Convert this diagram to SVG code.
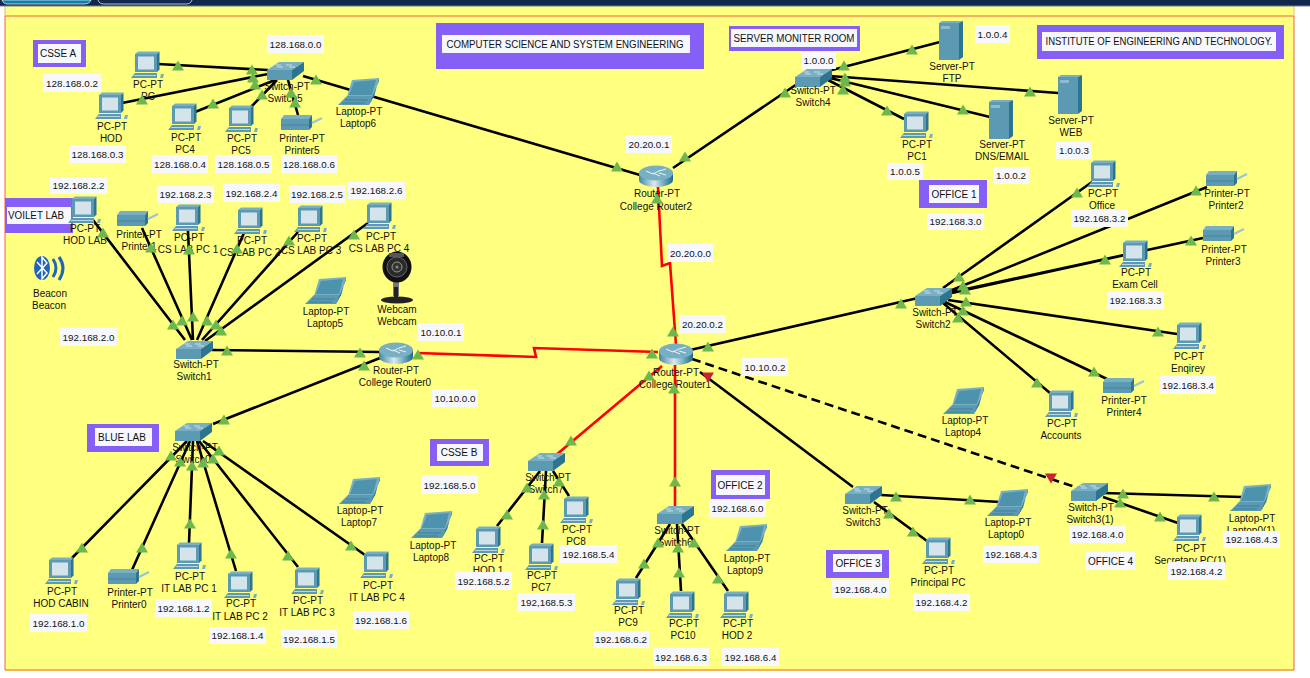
<svg xmlns="http://www.w3.org/2000/svg" width="1310" height="678" viewBox="0 0 1310 678">
<style>
text{font-family:"Liberation Sans",Arial,sans-serif;font-size:10px;fill:#111;text-anchor:middle}
.nt{font-size:9.8px}
.note rect{fill:#f6f8fe}
.z{fill:#8660f6}
.zi{fill:#f6f8fe}
.c{fill:none;stroke:#000;stroke-width:2.600}
.r{fill:none;stroke:#f00;stroke-width:2.600}
.d{fill:none;stroke:#000;stroke-width:2.600;stroke-dasharray:9 5}
.a{fill:#5b9ab2}.b{fill:#2b7590}.t{fill:#79afc3}.s{fill:#d5e4ea}
.g{fill:#6cb84c}
</style>
<defs>
<linearGradient id="rg" x1="0" x2="1" y1="0" y2="0"><stop offset="0" stop-color="#3f86a6"/><stop offset=".45" stop-color="#dbe9ee"/><stop offset=".75" stop-color="#6aa4ba"/><stop offset="1" stop-color="#1f6a86"/></linearGradient>
<g id="pc"><polygon class="t" points="4,3 7,0.5 28.5,0.5 26,3"/><rect class="a" x="4" y="3" width="22" height="18"/><polygon class="b" points="26,3 28.5,0.5 28.5,18.5 26,21"/><rect class="s" x="7" y="5.5" width="16" height="13"/><polygon class="a" points="0,27 4,22 26,22 26,27"/><path d="M3,24.500H25" stroke="#d5e4ea" stroke-width=".8"/><polygon class="t" points="29,27 30,23 33,23 32,27"/></g>
<g id="printer"><polygon class="t" points="0,5 3,1 31,1 28,5"/><rect class="a" x="0" y="5" width="28" height="11"/><polygon class="b" points="28,5 31,1 31,13 28,16"/><path d="M0,11H28" stroke="#3f7f98" stroke-width=".8"/><path d="M31,9L41,4" stroke="#9cc4d2" stroke-width="2.200"/></g>
<g id="laptop"><polygon class="t" points="14,2 41,0 36,19 9,19"/><polygon fill="#4d93ae" points="16,4 38,2 34,17 11,17"/><polygon class="a" points="9,18 36,18 31,27 0,27"/><path d="M7,22H30M4,25H27" stroke="#2b7590" stroke-width=".7"/><polygon class="b" points="36,18 41,0 41,3 31,27"/></g>
<g id="switch"><polygon class="t" points="0,8 12,0 37,0 25,8"/><rect class="a" x="0" y="8" width="25" height="10"/><polygon class="b" points="25,8 37,0 37,9 25,18"/><path d="M10,5H16M19,3H25M9,3H14M22,5H28" stroke="#dbe9ee" stroke-width=".8"/></g>
<g id="router"><path d="M0,8V15A17,7 0 0 0 34,15V8Z" fill="url(#rg)"/><ellipse class="t" cx="17" cy="8" rx="17" ry="7.500"/><path d="M7,6L14,9M20,6L14,9M20,6L27,4M21,11L14,8M27,10L20,8" stroke="#eef5f8" stroke-width="1" fill="none"/></g>
<g id="server"><polygon class="t" points="0,2 3,0 24,0 20,2"/><rect class="a" x="0" y="2" width="20" height="37"/><polygon class="b" points="20,2 24,0 24,36 20,39"/><rect x="2" y="5" width="9" height="3" fill="#8fbccc"/></g>
<polygon id="g" class="g" points="0,-5.500 6,4.500 -6,4.500"/>
<polygon id="x" fill="#c9232f" points="-6,-4.500 6,-4.500 0,5.500"/>
</defs>
<rect width="1310" height="678" fill="#fff"/>
<rect x="5" y="6" width="1289" height="665" fill="#ffff80"/>
<path d="M5,16H1294V670H5Z" fill="none" stroke="#f2603c" stroke-width="1"/>
<path d="M5,6V16" stroke="#d9b38c"/>
<path d="M1294,6V16" stroke="#e8c070"/>
<rect width="1310" height="6" fill="#10284e"/>
<rect y="5.500" width="1310" height="1" fill="#6d7f96"/>
<path d="M2,0C3,3 5,4 8,4H84C87,4 90,3 91,0Z" fill="#0d7fae" stroke="#dfe8ee" stroke-width=".8"/>
<path d="M98,0C99,3 101,4 104,4H186C189,4 191,3 192,0" fill="#10284e" stroke="#dfe8ee" stroke-width=".8"/>

<g id="zones">
<g id="z-csse-a"><rect class="z" x="33" y="40" width="53" height="27"/><rect class="zi" x="38" y="44" width="43" height="19"/><text x="58" y="57">CSSE A</text></g>
<g id="z-voilet"><rect class="z" x="5" y="198" width="68" height="35"/><rect class="zi" x="7" y="207" width="64" height="17"/><text x="36" y="219" textLength="56" lengthAdjust="spacingAndGlyphs">VOILET LAB</text></g>
<g id="z-blue"><rect class="z" x="87" y="424" width="72" height="28"/><rect class="zi" x="95" y="428" width="57" height="18"/><text x="122" y="441">BLUE LAB</text></g>
<g id="z-csse-b"><rect class="z" x="430" y="439" width="59" height="27"/><rect class="zi" x="437" y="444" width="46" height="17"/><text x="459" y="456">CSSE B</text></g>
<g id="z-office2"><rect class="z" x="711" y="470" width="59" height="29"/><rect class="zi" x="716" y="475" width="49" height="20"/><text x="740" y="489">OFFICE 2</text></g>
<g id="z-office3"><rect class="z" x="826" y="550" width="63" height="28"/><rect class="zi" x="833" y="554" width="49" height="18"/><text x="858" y="567">OFFICE 3</text></g>
<g id="z-office1"><rect class="z" x="919" y="180" width="68" height="28"/><rect class="zi" x="929" y="185" width="50" height="18"/><text x="954" y="198">OFFICE 1</text></g>
<g id="z-cs"><rect class="z" x="436" y="23" width="268" height="46"/><rect class="zi" x="442" y="35" width="248" height="18"/><text x="565" y="48" textLength="237" lengthAdjust="spacingAndGlyphs">COMPUTER SCIENCE AND SYSTEM ENGINEERING</text></g>
<g id="z-server"><rect class="z" x="729" y="26" width="131" height="25"/><rect class="zi" x="731" y="29" width="126" height="18"/><text x="794" y="42" textLength="121" lengthAdjust="spacingAndGlyphs">SERVER MONITER ROOM</text></g>
<g id="z-inst"><rect class="z" x="1037" y="25" width="247" height="34"/><rect class="zi" x="1042" y="32" width="234" height="19"/><text x="1159" y="45" textLength="227" lengthAdjust="spacingAndGlyphs">INSTITUTE OF ENGINEERING AND TECHNOLOGY.</text></g>
</g>

<g id="connectors">
<path class="c" d="M158,64L268,70M122,103L268,74M195,112L275,80M250,108L277,80M298,115L288,80M303,76L640,175M673,168L800,82M832,70L940,42M830,76L1058,93M830,78L990,117M828,80L904,119"/>
<path class="c" d="M212,350L380,352M380,358L213,424M690,350L918,298M700,372L853,487"/>
<path class="c" d="M881,495L1000,502M874,502L927,541M1103,493L1242,497M1103,497L1178,523"/>
<path class="c" d="M943,288L1092,182M952,290L1207,187M952,293L1125,255M952,292L1203,238M948,300L1177,334M945,302L1107,379M943,303L1050,393"/>
<path class="c" d="M93,220L185,340M142,228L192,340M188,231L193,340M244,233L197,340M298,232L202,340M368,223L205,341"/>
<path class="c" d="M72,558L187,441M132,570L190,441M189,543L193,441M236,571L197,441M298,567L199,441M365,555L203,441"/>
<path class="c" d="M497,526L540,471M542,543L546,471M569,496L553,471M636,578L670,524M681,591L677,524M728,591L682,524"/>
<path class="r" d="M658,187L662,266L670,263L676,345"/>
<path class="r" d="M417,353L536,357L534,348L658,352"/>
<path class="r" d="M662,366L556,455M675,365V506"/>
<path class="d" d="M692,359L1078,488"/>
</g>

<g id="nodes">
<g id="n-pc"><use href="#pc" x="131" y="51"/><text x="148" y="88">PC-PT</text><text x="148" y="100">PC</text></g>
<g id="n-hod"><use href="#pc" x="95" y="92"/><text x="112" y="130">PC-PT</text><text x="111" y="142">HOD</text></g>
<g id="n-pc4"><use href="#pc" x="168" y="103"/><text x="186" y="141">PC-PT</text><text x="185" y="153">PC4</text></g>
<g id="n-pc5"><use href="#pc" x="225" y="105"/><text x="242" y="142">PC-PT</text><text x="241" y="154">PC5</text></g>
<g id="n-printer5"><use href="#printer" x="281" y="114"/><text x="302" y="142">Printer-PT</text><text x="302" y="154">Printer5</text></g>
<g id="n-laptop6"><use href="#laptop" x="338" y="78"/><text x="359" y="115">Laptop-PT</text><text x="358" y="127">Laptop6</text></g>
<g id="n-switch5"><use href="#switch" x="267" y="62"/><text x="287" y="90">Switch-PT</text><text x="285" y="102">Switch5</text></g>

<g id="n-hodlab"><use href="#pc" x="68" y="196"/><text x="85" y="232">PC-PT</text><text x="85" y="244">HOD LAB</text></g>
<g id="n-printer1"><use href="#printer" x="117" y="210"/><text x="139" y="238">Printer-PT</text><text x="139" y="250">Printer1</text></g>
<g id="n-cs1"><use href="#pc" x="172" y="204"/><text x="189" y="241">PC-PT</text><text x="188" y="253">CS LAB PC 1</text></g>
<g id="n-cs2"><use href="#pc" x="234" y="207"/><text x="252" y="244">PC-PT</text><text x="250" y="256">CS LAB PC 2</text></g>
<g id="n-cs3"><use href="#pc" x="294" y="205"/><text x="312" y="242">PC-PT</text><text x="311" y="254">CS LAB PC 3</text></g>
<g id="n-cs4"><use href="#pc" x="363" y="202"/><text x="381" y="240">PC-PT</text><text x="379" y="252">CS LAB PC 4</text></g>
<g id="n-webcam"><rect x="393" y="280" width="6" height="16" fill="#777"/><path d="M394,287h4v11h-4z" fill="#222"/><ellipse cx="397" cy="300" rx="16" ry="3.500" fill="#222"/><ellipse cx="397" cy="267" rx="14.500" ry="15.500" fill="#111"/><rect x="389" y="253" width="15" height="4" fill="#555"/><circle cx="397" cy="267" r="10" fill="#2a2a2a" stroke="#666"/><circle cx="397" cy="267" r="5" fill="#333" stroke="#999"/><circle cx="397" cy="267" r="1.500" fill="#888"/><text x="397" y="313">Webcam</text><text x="397" y="325">Webcam</text></g>
<g id="n-laptop5"><use href="#laptop" x="305" y="277"/><text x="326" y="315">Laptop-PT</text><text x="325" y="327">Laptop5</text></g>
<g id="n-beacon"><ellipse cx="42" cy="268" rx="8" ry="12" fill="#2363b8"/><path d="M37,262L47,273L42,279V257L47,263L37,274" fill="none" stroke="#fff" stroke-width="1.500"/><path d="M53,259Q59,268 53,277M59,257Q67,268 59,280" fill="none" stroke="#2363b8" stroke-width="3"/><text x="50" y="297">Beacon</text><text x="49" y="309">Beacon</text></g>
<g id="n-switch1"><use href="#switch" x="176" y="341"/><text x="196" y="368">Switch-PT</text><text x="194" y="380">Switch1</text></g>
<g id="n-router0"><use href="#router" x="379" y="342"/><text x="396" y="374">Router-PT</text><text x="395" y="386">College Router0</text></g>

<g id="n-switch0"><use href="#switch" x="175" y="423"/><text x="195" y="451">Switch-PT</text><text x="193" y="463">Switch0</text></g>
<g id="n-hodcabin"><use href="#pc" x="45" y="557"/><text x="62" y="595">PC-PT</text><text x="61" y="607">HOD CABIN</text></g>
<g id="n-printer0"><use href="#printer" x="108" y="568"/><text x="130" y="596">Printer-PT</text><text x="129" y="608">Printer0</text></g>
<g id="n-it1"><use href="#pc" x="173" y="542"/><text x="190" y="580">PC-PT</text><text x="189" y="592">IT LAB PC 1</text></g>
<g id="n-it2"><use href="#pc" x="224" y="571"/><text x="241" y="607">PC-PT</text><text x="240" y="620">IT LAB PC 2</text></g>
<g id="n-it3"><use href="#pc" x="291" y="567"/><text x="308" y="604">PC-PT</text><text x="307" y="616">IT LAB PC 3</text></g>
<g id="n-it4"><use href="#pc" x="360" y="551"/><text x="378" y="589">PC-PT</text><text x="377" y="601">IT LAB PC 4</text></g>
<g id="n-laptop7"><use href="#laptop" x="339" y="477"/><text x="360" y="514">Laptop-PT</text><text x="359" y="526">Laptop7</text></g>
<g id="n-laptop8"><use href="#laptop" x="411" y="511"/><text x="433" y="549">Laptop-PT</text><text x="431" y="561">Laptop8</text></g>

<g id="n-switch7"><use href="#switch" x="528" y="453"/><text x="548" y="481">Switch-PT</text><text x="546" y="493">Switch7</text></g>
<g id="n-hod1"><use href="#pc" x="472" y="526"/><text x="489" y="562">PC-PT</text><text x="488" y="574">HOD 1</text></g>
<g id="n-pc7"><use href="#pc" x="525" y="543"/><text x="542" y="579">PC-PT</text><text x="541" y="591">PC7</text></g>
<g id="n-pc8"><use href="#pc" x="560" y="496"/><text x="577" y="533">PC-PT</text><text x="576" y="545">PC8</text></g>
<g id="n-switch6"><use href="#switch" x="657" y="506"/><text x="677" y="534">Switch-PT</text><text x="675" y="546">Switch6</text></g>
<g id="n-pc9"><use href="#pc" x="612" y="578"/><text x="629" y="614">PC-PT</text><text x="628" y="626">PC9</text></g>
<g id="n-pc10"><use href="#pc" x="666" y="591"/><text x="684" y="627">PC-PT</text><text x="683" y="639">PC10</text></g>
<g id="n-hod2"><use href="#pc" x="720" y="591"/><text x="738" y="627">PC-PT</text><text x="737" y="639">HOD 2</text></g>
<g id="n-laptop9"><use href="#laptop" x="726" y="524"/><text x="747" y="562">Laptop-PT</text><text x="745" y="574">Laptop9</text></g>

<g id="n-switch3"><use href="#switch" x="845" y="486"/><text x="865" y="514">Switch-PT</text><text x="863" y="526">Switch3</text></g>
<g id="n-laptop0"><use href="#laptop" x="987" y="489"/><text x="1008" y="526">Laptop-PT</text><text x="1006" y="538">Laptop0</text></g>
<g id="n-principal"><use href="#pc" x="922" y="537"/><text x="939" y="574">PC-PT</text><text x="938" y="586">Principal PC</text></g>
<g id="n-switch31"><use href="#switch" x="1071" y="483"/><text x="1091" y="511">Switch-PT</text><text x="1090" y="523">Switch3(1)</text></g>
<g id="n-laptop01"><use href="#laptop" x="1230" y="484"/><text x="1252" y="522">Laptop-PT</text><text x="1251" y="534">Laptop0(1)</text></g>
<g id="n-secretary"><use href="#pc" x="1173" y="514"/><text x="1191" y="552">PC-PT</text><text x="1190" y="564">Secretary PC(1)</text></g>
<g id="n-laptop4"><use href="#laptop" x="943" y="387"/><text x="965" y="424">Laptop-PT</text><text x="963" y="436">Laptop4</text></g>
<g id="n-accounts"><use href="#pc" x="1045" y="390"/><text x="1062" y="427">PC-PT</text><text x="1061" y="439">Accounts</text></g>
<g id="n-printer4"><use href="#printer" x="1103" y="377"/><text x="1124" y="404">Printer-PT</text><text x="1124" y="416">Printer4</text></g>

<g id="n-office"><use href="#pc" x="1087" y="160"/><text x="1103" y="197">PC-PT</text><text x="1102" y="209">Office</text></g>
<g id="n-printer2"><use href="#printer" x="1206" y="170"/><text x="1227" y="197">Printer-PT</text><text x="1226" y="209">Printer2</text></g>
<g id="n-printer3"><use href="#printer" x="1203" y="225"/><text x="1224" y="253">Printer-PT</text><text x="1223" y="265">Printer3</text></g>
<g id="n-exam"><use href="#pc" x="1119" y="240"/><text x="1136" y="276">PC-PT</text><text x="1135" y="288">Exam Cell</text></g>
<g id="n-enqirey"><use href="#pc" x="1173" y="322"/><text x="1189" y="360">PC-PT</text><text x="1188" y="372">Enqirey</text></g>
<g id="n-switch2"><use href="#switch" x="915" y="288"/><text x="935" y="316">Switch-PT</text><text x="933" y="328">Switch2</text></g>

<g id="n-switch4"><use href="#switch" x="795" y="69"/><text x="813" y="94">Switch-PT</text><text x="813" y="106">Switch4</text></g>
<g id="n-ftp"><use href="#server" x="939" y="21"/><text x="952" y="70">Server-PT</text><text x="952" y="82">FTP</text></g>
<g id="n-web"><use href="#server" x="1058" y="75"/><text x="1071" y="124">Server-PT</text><text x="1071" y="136">WEB</text></g>
<g id="n-dns"><use href="#server" x="989" y="100"/><text x="1002" y="148">Server-PT</text><text x="1002" y="160">DNS/EMAIL</text></g>
<g id="n-pc1"><use href="#pc" x="900" y="111"/><text x="917" y="148">PC-PT</text><text x="917" y="160">PC1</text></g>
<g id="n-router2"><use href="#router" x="639" y="165"/><text x="657" y="197">Router-PT</text><text x="656" y="210">College Router2</text></g>
<g id="n-router1"><use href="#router" x="659" y="343"/><text x="676" y="376">Router-PT</text><text x="675" y="388">College Router1</text></g>
</g>

<g id="link-lights">
<use href="#g" x="178" y="66"/><use href="#g" x="252" y="70"/><use href="#g" x="142" y="100"/><use href="#g" x="253" y="78"/><use href="#g" x="213" y="104"/><use href="#g" x="255" y="85"/><use href="#g" x="262" y="95"/><use href="#g" x="295" y="103"/><use href="#g" x="291" y="93"/><use href="#g" x="316" y="80"/><use href="#g" x="617" y="167"/>
<use href="#g" x="685" y="157"/><use href="#g" x="785" y="93"/><use href="#g" x="844" y="66"/><use href="#g" x="912" y="50"/><use href="#g" x="845" y="78"/><use href="#g" x="1030" y="92"/><use href="#g" x="845" y="82"/><use href="#g" x="963" y="110"/><use href="#g" x="843" y="90"/><use href="#g" x="887" y="111"/>
<use href="#g" x="657" y="199"/><use href="#g" x="673" y="332"/><use href="#g" x="418" y="355"/><use href="#g" x="652" y="354"/><use href="#g" x="227" y="351"/><use href="#g" x="360" y="353"/><use href="#g" x="364" y="366"/><use href="#g" x="224" y="420"/><use href="#g" x="708" y="347"/><use href="#g" x="901" y="304"/><use href="#g" x="649" y="376"/><use href="#g" x="571" y="441"/><use href="#g" x="674" y="389"/><use href="#g" x="675" y="482"/>
<use href="#x" x="708" y="377"/><use href="#x" x="1051" y="478"/>
<use href="#g" x="896" y="497"/><use href="#g" x="970" y="500"/><use href="#g" x="889" y="514"/><use href="#g" x="913" y="532"/><use href="#g" x="1123" y="494"/><use href="#g" x="1214" y="497"/><use href="#g" x="1120" y="503"/><use href="#g" x="1160" y="517"/>
<use href="#g" x="959" y="277"/><use href="#g" x="1077" y="193"/><use href="#g" x="963" y="286"/><use href="#g" x="1196" y="191"/><use href="#g" x="965" y="290"/><use href="#g" x="1105" y="260"/><use href="#g" x="1191" y="241"/><use href="#g" x="966" y="302"/><use href="#g" x="1158" y="332"/><use href="#g" x="963" y="311"/><use href="#g" x="1094" y="372"/><use href="#g" x="958" y="318"/><use href="#g" x="1037" y="383"/>
<use href="#g" x="103" y="233"/><use href="#g" x="173" y="325"/><use href="#g" x="151" y="248"/><use href="#g" x="182" y="321"/><use href="#g" x="189" y="250"/><use href="#g" x="193" y="317"/><use href="#g" x="237" y="249"/><use href="#g" x="207" y="321"/><use href="#g" x="289" y="241"/><use href="#g" x="216" y="325"/><use href="#g" x="354" y="235"/><use href="#g" x="221" y="331"/>
<use href="#g" x="82" y="548"/><use href="#g" x="171" y="456"/><use href="#g" x="142" y="548"/><use href="#g" x="180" y="462"/><use href="#g" x="190" y="524"/><use href="#g" x="192" y="466"/><use href="#g" x="231" y="554"/><use href="#g" x="203" y="463"/><use href="#g" x="288" y="556"/><use href="#g" x="213" y="459"/><use href="#g" x="351" y="546"/><use href="#g" x="219" y="451"/>
<use href="#g" x="507" y="515"/><use href="#g" x="527" y="488"/><use href="#g" x="543" y="525"/><use href="#g" x="544" y="495"/><use href="#g" x="559" y="482"/><use href="#g" x="644" y="564"/><use href="#g" x="658" y="543"/><use href="#g" x="679" y="573"/><use href="#g" x="678" y="548"/><use href="#g" x="718" y="579"/><use href="#g" x="694" y="543"/>
</g>

<g id="notes" class="note">
<rect x="267" y="35" width="57" height="18"/><text class="nt" x="295.500" y="47.500">128.168.0.0</text>
<rect x="43" y="74" width="58" height="18"/><text class="nt" x="72" y="86.500">128.168.0.2</text>
<rect x="69" y="145" width="57" height="18"/><text class="nt" x="97.500" y="157.500">128.168.0.3</text>
<rect x="152" y="155" width="56" height="18"/><text class="nt" x="180" y="167.500">128.168.0.4</text>
<rect x="215" y="155" width="57" height="18"/><text class="nt" x="243.500" y="167.500">128.168.0.5</text>
<rect x="281" y="155" width="56" height="18"/><text class="nt" x="309" y="167.500">128.168.0.6</text>
<rect x="50" y="177" width="57" height="17"/><text class="nt" x="78.500" y="189">192.168.2.2</text>
<rect x="157" y="186" width="57" height="17"/><text class="nt" x="185.500" y="198">192.168.2.3</text>
<rect x="223" y="184" width="57" height="18"/><text class="nt" x="251.500" y="196.500">192.168.2.4</text>
<rect x="289" y="185" width="56" height="18"/><text class="nt" x="317" y="197.500">192.168.2.5</text>
<rect x="348" y="182" width="57" height="17"/><text class="nt" x="376.500" y="194">192.168.2.6</text>
<rect x="60" y="328" width="57" height="18"/><text class="nt" x="88.500" y="340.500">192.168.2.0</text>
<rect x="418" y="323" width="46" height="18"/><text class="nt" x="441" y="335.500">10.10.0.1</text>
<rect x="432" y="389" width="46" height="18"/><text class="nt" x="455" y="401.500">10.10.0.0</text>
<rect x="679" y="315" width="47" height="18"/><text class="nt" x="702.500" y="327.500">20.20.0.2</text>
<rect x="668" y="244" width="45" height="18"/><text class="nt" x="690.500" y="256.500">20.20.0.0</text>
<rect x="626" y="135" width="46" height="18"/><text class="nt" x="649" y="147.500">20.20.0.1</text>
<rect x="742" y="358" width="46" height="18"/><text class="nt" x="765" y="370.500">10.10.0.2</text>
<rect x="30" y="614" width="57" height="18"/><text class="nt" x="58.500" y="626.500">192.168.1.0</text>
<rect x="155" y="599" width="57" height="18"/><text class="nt" x="183.500" y="611.500">192.168.1.2</text>
<rect x="209" y="627" width="57" height="17"/><text class="nt" x="237.500" y="639">192.168.1.4</text>
<rect x="281" y="630" width="56" height="18"/><text class="nt" x="309" y="642.500">192.168.1.5</text>
<rect x="353" y="611" width="56" height="18"/><text class="nt" x="381" y="623.500">192.168.1.6</text>
<rect x="421" y="476" width="57" height="18"/><text class="nt" x="449.500" y="488.500">192.168.5.0</text>
<rect x="455" y="572" width="57" height="18"/><text class="nt" x="483.500" y="584.500">192.168.5.2</text>
<rect x="518" y="593" width="57" height="18"/><text class="nt" x="546.500" y="605.500">192,168.5.3</text>
<rect x="560" y="545" width="57" height="18"/><text class="nt" x="588.500" y="557.500">192.168.5.4</text>
<rect x="709" y="499" width="57" height="18"/><text class="nt" x="737.500" y="511.500">192.168.6.0</text>
<rect x="593" y="631" width="56" height="17"/><text class="nt" x="621" y="643">192.168.6.2</text>
<rect x="653" y="648" width="56" height="18"/><text class="nt" x="681" y="660.500">192.168.6.3</text>
<rect x="722" y="648" width="57" height="18"/><text class="nt" x="750.500" y="660.500">192.168.6.4</text>
<rect x="983" y="546" width="56" height="17"/><text class="nt" x="1011" y="558">192.168.4.3</text>
<rect x="832" y="580" width="57" height="18"/><text class="nt" x="860.500" y="592.500">192.168.4.0</text>
<rect x="913" y="594" width="57" height="17"/><text class="nt" x="941.500" y="606">192.168.4.2</text>
<rect x="1069" y="526" width="57" height="17"/><text class="nt" x="1097.500" y="538">192.168.4.0</text>
<rect x="1086" y="552" width="49" height="18"/><text x="1110.500" y="564.500">OFFICE 4</text>
<rect x="1168" y="562" width="57" height="18"/><text class="nt" x="1196.500" y="574.500">192.168.4.2</text>
<rect x="1223" y="531" width="57" height="17"/><text class="nt" x="1251.500" y="543">192.168.4.3</text>
<rect x="1160" y="376" width="56" height="18"/><text class="nt" x="1188" y="388.500">192.168.3.4</text>
<rect x="1071" y="210" width="57" height="17"/><text class="nt" x="1099.500" y="222">192.168.3.2</text>
<rect x="1107" y="292" width="57" height="17"/><text class="nt" x="1135.500" y="304">192.168.3.3</text>
<rect x="927" y="213" width="57" height="17"/><text class="nt" x="955.500" y="225">192.168.3.0</text>
<rect x="887" y="163" width="36" height="17"/><text class="nt" x="905" y="175">1.0.0.5</text>
<rect x="993" y="167" width="36" height="17"/><text class="nt" x="1011" y="179">1.0.0.2</text>
<rect x="1056" y="142" width="36" height="17"/><text class="nt" x="1074" y="154">1.0.0.3</text>
<rect x="975" y="25" width="35" height="18"/><text class="nt" x="992.500" y="37.500">1.0.0.4</text>
<rect x="801" y="52" width="35" height="17"/><text class="nt" x="818.500" y="64">1.0.0.0</text>
</g>
</svg>
